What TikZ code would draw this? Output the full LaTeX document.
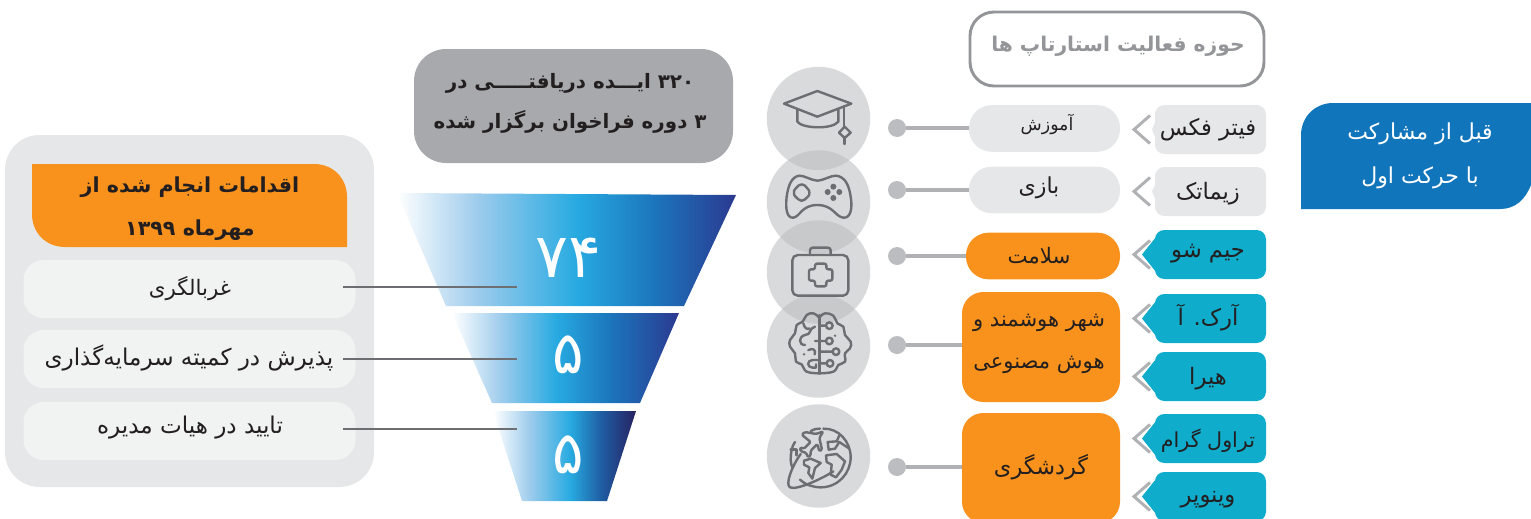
\documentclass[tikz,border=0pt]{standalone}
\usepackage{fontspec}
\newfontfamily\arabicfont[Script=Arabic]{DejaVu Sans}
\TeXXeTstate=1
\usetikzlibrary{calc}
\definecolor{cOrange}{HTML}{F9921C}
\definecolor{cTeal}{HTML}{0FACCB}
\definecolor{cPale}{HTML}{E6E7E8}
\definecolor{cPaler}{HTML}{F1F2F2}
\definecolor{cMid}{HTML}{A7A9AC}
\definecolor{cLine}{HTML}{B0B1B5}
\definecolor{cDot}{HTML}{BCBDC0}
\definecolor{cFrame}{HTML}{939598}
\definecolor{cIcon}{HTML}{6D6E71}
\definecolor{cBlue}{HTML}{1175BC}
\definecolor{cInk}{HTML}{231F20}
\definecolor{cDisc}{RGB}{186,187,189}
\definecolor{c27}{HTML}{27AAE1}
\definecolor{c1C}{HTML}{1C75BC}
\definecolor{c2B}{HTML}{2B3990}
\definecolor{c26}{HTML}{262262}
\definecolor{cSky}{HTML}{9CCBEC}
\pgfdeclarehorizontalshading{funA}{100bp}{color(0bp)=(white);color(25bp)=(white);color(37bp)=(cSky);color(51.5bp)=(c27);color(63bp)=(c1C);color(75bp)=(c2B);color(100bp)=(c2B)}
\pgfdeclarehorizontalshading{funB}{100bp}{color(0bp)=(white);color(25bp)=(white);color(36bp)=(cSky);color(48bp)=(c27);color(60bp)=(c1C);color(75bp)=(c2B);color(100bp)=(c2B)}
\pgfdeclarehorizontalshading{funC}{100bp}{color(0bp)=(white);color(25bp)=(white);color(38bp)=(cSky);color(52bp)=(c27);color(63bp)=(c1C!70!c26);color(75bp)=(c26);color(100bp)=(c26)}
\newcommand{\fa}[1]{\beginR #1\endR}
\newcommand{\nm}[1]{\beginL #1\endL{}}
\tikzset{
  fa/.style 2 args={font=\arabicfont\fontsize{#1}{#2}\selectfont,text=cInk,align=center,inner sep=0pt},
  fab/.style 2 args={font=\arabicfont\bfseries\fontsize{#1}{#2}\selectfont,text=cInk,align=center,inner sep=0pt},
  box/.style={inner sep=0pt,outer sep=0pt,rectangle},
  disc/.style={circle,fill=cDisc,fill opacity=.55,minimum size=77.6pt,inner sep=0pt,outer sep=0pt},
  dotn/.style={circle,fill=cDot,minimum size=13.5pt,inner sep=0pt,outer sep=0pt},
  link/.style={draw=cLine,line width=2.3pt},
  lead/.style={draw=cIcon,line width=2.1pt},
  chev/.style={draw=cLine,line width=2.2pt,fill=none},
  ico/.style={draw=cIcon,line width=1.8pt,line join=round,line cap=round,fill=none},
  zoomA/.style={shift={(#1)},x=.25pt,y=-.25pt},
}
% tag: name, centre y, colour, tip x, flank half-height, text y, font size, text
\newcommand{\tagbox}[8]{%
  \draw[chev] (1150,#2-14) -- (1134,#2) -- (1150,#2+14);
  \fill[#3] (1158,#2-#5) -- (#4,#2) -- (1158,#2+#5) -- cycle;
  \node[box,fill=#3,rounded corners=7pt,minimum width=83.25pt,minimum height=36.75pt] (#1) at (1210.5,#2) {};
  \node[fa={#7}{20pt}] (#1t) at (1208,#6) {#8};
}
\begin{document}
\begin{tikzpicture}[x=.75pt,y=-.75pt]
\path[use as bounding box,clip] (0,0) rectangle (1531,518);

%% left panel
\node[box,fill=cPale,rounded corners=26pt,minimum width=276.75pt,minimum height=264pt] (panel) at (189.5,311) {};
\fill[cOrange] (32,164) -- (314,164) .. controls (333,164) and (347,178) .. (347,197) -- (347,247) -- (65,247)
  .. controls (46,247) and (32,233) .. (32,214) -- cycle;
\node[fab={15.5pt}{24pt}] (head) at (190,209) {\fa{اقدامات انجام شده از}\\[8pt]\fa{مهرماه \nm{۱۳۹۹}}};
\foreach \n/\cy in {r1/289,r2/359,r3/431}
  \node[box,fill=cPaler,rounded corners=15pt,minimum width=249pt,minimum height=43.5pt] (\n) at (189.5,\cy) {};
\node[fa={16pt}{18pt}] (t1) at (190,289) {\fa{غربالگری}};
\node[fa={17.3pt}{18pt}] (t2) at (189,358) {\fa{پذیرش در کمیته سرمایه‌گذاری}};
\node[fa={17.3pt}{18pt}] (t3) at (190,428) {\fa{تایید در هیات مدیره}};

%% grey callout
\node[box,fill=cMid,rounded corners=24pt,minimum width=239.25pt,minimum height=85.5pt] (call) at (573.5,106) {};
\node[fab={14.9pt}{24pt}] (callt) at (570,103.5) {\fa{\nm{۳۲۰} ایـــده دریافتـــــی در}\\[6pt]\fa{\nm{۳} دوره فراخوان برگزار شده}};

%% funnel
\path[shading=funA] (397,193) -- (736,195) -- (684,306) -- (446,306) -- cycle;
\path[shading=funB] (452,313) -- (679,313) -- (640,403) -- (492,403) -- cycle;
\path[shading=funC] (493,411) -- (636,411) -- (607,501) -- (522,501) -- cycle;
\node[font=\arabicfont\fontsize{46pt}{50pt}\selectfont,text=white,inner sep=0pt] (n1) at (568,258) {\nm{۷۴}};
\node[font=\arabicfont\fontsize{44pt}{50pt}\selectfont,text=white,inner sep=0pt] (n2) at (568,355) {\nm{۵}};
\node[font=\arabicfont\fontsize{44pt}{50pt}\selectfont,text=white,inner sep=0pt] (n3) at (568,455) {\nm{۵}};
\coordinate (e1) at (517,287);
\coordinate (e2) at (517,359);
\coordinate (e3) at (517,429);
\draw[lead,shorten <=-9.4pt] (e1 -| r1.east) -- (e1);
\draw[lead,shorten <=-9.4pt] (e2 -| r2.east) -- (e2);
\draw[lead,shorten <=-9.4pt] (e3 -| r3.east) -- (e3);

%% discs
\node[disc] (d1) at (818.5,118.5) {};
\node[disc] (d2) at (818.5,202) {};
\node[disc] (d3) at (818.5,272) {};
\node[disc] (d4) at (818.5,346) {};
\node[disc] (d5) at (818.5,456) {};

%% cap
\begin{scope}[zoomA={760,0}]
\draw[ico] (72,311) -- (172,273) -- (274,311) -- (172,350) -- cycle;
\draw[ico] (112,328) -- (112,365) .. controls (125,385) and (215,390) .. (235,365) -- (235,328);
\draw[ico] (252,318) -- (252,380);
\draw[ico] (254,380) -- (272,398) -- (254,414) -- (237,398) -- cycle;
\draw[ico] (254,414) -- (254,432);
%% pad
\draw[ico] (172,542) .. controls (150,540) and (135,527) .. (118,527) .. controls (95,530) and (85,555) .. (80,590)
  .. controls (76,625) and (80,655) .. (100,653) .. controls (120,650) and (125,615) .. (172,615)
  .. controls (220,615) and (225,650) .. (250,653) .. controls (272,655) and (278,625) .. (272,590)
  .. controls (267,555) and (255,530) .. (228,527) .. controls (210,527) and (195,540) .. (172,542) -- cycle;
\draw[ico] (115,557) .. controls (125,552) and (130,552) .. (135,557) .. controls (140,565) and (150,570) .. (148,578)
  .. controls (150,588) and (140,592) .. (135,598) .. controls (130,604) and (120,604) .. (115,598)
  .. controls (110,592) and (100,588) .. (102,578) .. controls (100,568) and (110,565) .. (115,557) -- cycle;
\fill[cIcon] (203,576) circle (2.25pt) (220,560) circle (2.25pt) (238,576) circle (2.25pt) (220,594) circle (2.25pt);
\end{scope}

%% kit
\begin{scope}[zoomA={780,230}]
\draw[ico,rounded corners=4pt] (37,75) rectangle (205,197);
\draw[ico,rounded corners=2pt] (90,75) -- (90,53) -- (152,53) -- (152,75);
\draw[ico,rounded corners=1.5pt] (105,101) -- (139,101) -- (139,118) -- (157,118) -- (157,152) -- (139,152) -- (139,169)
  -- (105,169) -- (105,152) -- (87,152) -- (87,118) -- (105,118) -- cycle;
\end{scope}

%% brain
\begin{scope}[zoomA={780,305}]
\draw[ico] (118,30) -- (118,205);
\draw[ico] plot[smooth,tension=.7] coordinates {(118,38) (100,25) (80,30) (68,50) (50,60) (45,85) (30,105) (30,125) (45,145) (48,170) (65,178) (80,200) (118,205)};
\draw[ico] plot[smooth,tension=.7] coordinates {(118,38) (135,25) (160,32) (172,55) (190,65) (195,90) (212,110) (210,130) (195,145) (195,170) (175,180) (160,200) (118,205)};
\draw[ico] (118,62) -- (138,62) (148,62) circle (2.5pt);
\draw[ico] (105,108) -- (138,108) (148,108) circle (2.5pt);
\draw[ico] (118,140) -- (158,140) (168,140) circle (2.5pt);
\draw[ico] (118,175) -- (140,175) (150,175) circle (2.5pt);
\draw[ico] (118,165) -- (98,165) .. controls (80,165) and (80,188) .. (98,188) -- (108,188) -- (108,178);
\draw[ico] (85,135) .. controls (100,128) and (108,135) .. (104,148);
\draw[ico] (70,55) .. controls (72,70) and (85,75) .. (88,70);
\draw[ico] (105,65) .. controls (85,70) and (95,90) .. (75,90) .. controls (55,95) and (55,120) .. (75,120);
\fill[cIcon] (165,92) circle (1pt) (72,148) circle (1pt);
\end{scope}

%% globe
\begin{scope}[zoomA={780,418}]
\draw[ico] (130,32) .. controls (175,30) and (212,70) .. (212,118) .. controls (212,165) and (175,208) .. (122,208) .. controls (100,208) and (75,200) .. (60,185);
\draw[ico] (92,40) .. controls (100,33) and (112,32) .. (120,32);
\draw[ico] (45,72) .. controls (35,85) and (32,105) .. (32,125) .. controls (32,135) and (35,145) .. (38,150);
\draw[ico] (32,95) -- (50,95) -- (50,112);
\draw[ico] (62,108) .. controls (35,145) and (15,200) .. (30,208) .. controls (50,218) and (130,180) .. (160,160);
\draw[ico,rounded corners=1pt] (130,40) -- (108,48) -- (75,42) -- (65,50) -- (92,72) -- (72,92) -- (60,88) -- (62,100) -- (78,104) -- (84,118) -- (92,112) -- (92,98) -- (112,78) -- (118,100) -- (126,95) -- (118,60) -- cycle;
\draw[ico] (178,52) -- (170,70) -- (143,72) -- (146,95) -- (165,92) -- (178,72) -- (208,92);
\draw[ico] (138,112) -- (170,108) -- (195,130) -- (185,155) -- (168,178) -- (152,170) -- (155,140) -- (140,132) -- cycle;
\draw[ico] (72,128) -- (92,122) -- (122,135) -- (105,150) -- (97,182) -- (85,165) -- (88,148) -- (72,140) -- cycle;
\end{scope}

%% title
\node[box,draw=cFrame,line width=2.2pt,fill=white,rounded corners=18pt,minimum width=220.5pt,minimum height=55.5pt] (title) at (1117,49) {};
\node[fab={15.2pt}{18pt},text=cFrame] (titlet) at (1118,46) {\fa{حوزه فعالیت استارتاپ ها}};

%% categories
\tikzset{cat/.style={box,rounded corners=17pt}}
\node[cat,fill=cPale,minimum width=113.25pt,minimum height=35pt] (c1) at (1044.5,128.5) {};
\node[cat,fill=cPale,minimum width=113.25pt,minimum height=35pt] (c2) at (1044.5,190) {};
\node[cat,fill=cOrange,minimum width=115.5pt,minimum height=35pt] (c3) at (1043,256) {};
\node[cat,fill=cOrange,rounded corners=16pt,minimum width=118.5pt,minimum height=82.5pt] (c4) at (1041,347) {};
\node[cat,fill=cOrange,rounded corners=16pt,minimum width=118.5pt,minimum height=82.5pt] (c5) at (1041,468) {};
\node[fa={13pt}{18pt}] (ct1) at (1047,124) {\fa{آموزش}};
\node[fa={16.5pt}{18pt}] (ct2) at (1039,188) {\fa{بازی}};
\node[fa={16pt}{18pt}] (ct3) at (1039,256) {\fa{سلامت}};
\node[fa={15.8pt}{31.5pt}] (ct4) at (1039,344) {\fa{شهر هوشمند و}\\\fa{هوش مصنوعی}};
\node[fa={16.8pt}{18pt}] (ct5) at (1041,467) {\fa{گردشگری}};

%% dots and links
\node[dotn] (p1) at (897,128) {};
\node[dotn] (p2) at (897,190) {};
\node[dotn] (p3) at (897,256) {};
\node[dotn] (p4) at (897,345) {};
\node[dotn] (p5) at (897,467) {};
\foreach \k in {1,...,5} \draw[link] (p\k) -- (p\k -| c\k.west);

%% tags
\tagbox{g1}{129.5}{cPale}{1152}{14}{129.5}{17pt}{\fa{فیتر فکس}}
\tagbox{g2}{191.5}{cPale}{1152}{14}{193.5}{17pt}{\fa{زیماتک}}
\tagbox{g3}{254.5}{cTeal}{1142}{20}{253.5}{17pt}{\fa{جیم شو}}
\tagbox{g4}{318.5}{cTeal}{1142}{20}{317.5}{17pt}{\fa{آرک. آ}}
\tagbox{g5}{376.5}{cTeal}{1142}{20}{378.5}{17pt}{\fa{هیرا}}
\tagbox{g6}{438.5}{cTeal}{1142}{20}{440.5}{15.5pt}{\fa{تراول گرام}}
\tagbox{g7}{496.5}{cTeal}{1142}{20}{499.5}{17pt}{\fa{وینوپر}}

%% blue leaf
\fill[cBlue] (1301,209) -- (1301,135) .. controls (1301,117) and (1315,103) .. (1333,103) -- (1531,103) -- (1531,185)
  .. controls (1525,200) and (1515,209) .. (1500,209) -- cycle;
\node[fa={16.5pt}{30pt},text=white] (leaf) at (1420,156) {\fa{قبل از مشارکت}\\[3pt]\fa{با حرکت اول}};
\end{tikzpicture}
\end{document}
